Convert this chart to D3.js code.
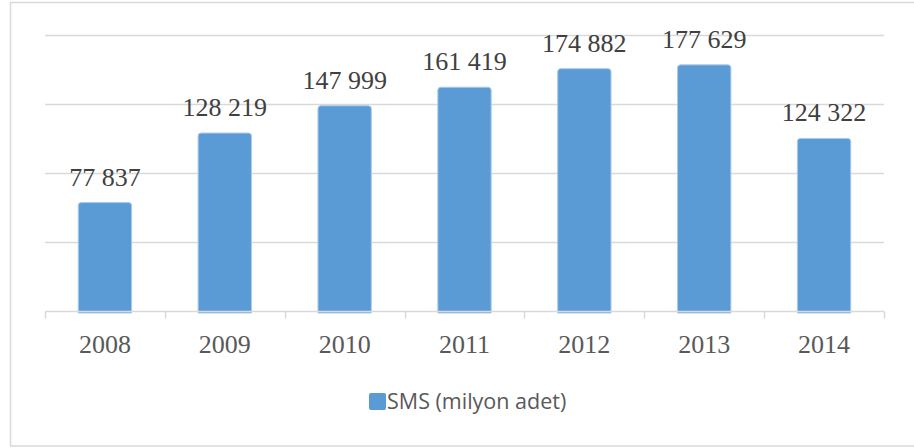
<!DOCTYPE html>
<html>
<head>
<meta charset="utf-8">
<script src="https://cdn.jsdelivr.net/npm/d3@7"></script>
<style>
  body { margin: 0; background: #fff; }
  svg { display: block; }
</style>
</head>
<body>
<div id="chart"></div>
<script>
// data
var years = ['2008', '2009', '2010', '2011', '2012', '2013', '2014'];
var smsValues = [77837, 128219, 147999, 161419, 174882, 177629, 124322];
var yTicks = [0, 50000, 100000, 150000, 200000];
var seriesName = 'SMS (milyon adet)';

var W = 914, H = 448;
var plot = {left: 45, right: 884, top: 35, bottom: 311};

var svg = d3.select('#chart').append('svg')
    .attr('width', W)
    .attr('height', H);

// outer frame
svg.append('rect')
    .attr('x', 10.5).attr('y', 2.5)
    .attr('width', W + 10).attr('height', 443.5)
    .attr('fill', 'none')
    .attr('stroke', '#d9d9d9')
    .attr('stroke-width', 1.5);

var x = d3.scaleBand()
    .domain(years)
    .range([plot.left, plot.right])
    .paddingInner(0.555)
    .paddingOuter(0.2775);

var y = d3.scaleLinear()
    .domain([0, 200000])
    .range([plot.bottom, plot.top]);

// gridlines
svg.append('g')
    .selectAll('line')
    .data(yTicks.slice(1))
    .enter().append('line')
    .attr('x1', plot.left).attr('x2', plot.right)
    .attr('y1', function(d){ return Math.round(y(d)) + 0.5 })
    .attr('y2', function(d){ return Math.round(y(d)) + 0.5 })
    .attr('stroke', '#d9d9d9')
    .attr('stroke-width', 1.5);

// bars with a rounded top
function barPath(d, i){
    var x0 = x(years[i]), w = x.bandwidth();
    var top = y(d) - 1, bot = plot.bottom + 2, r = 3;
    return 'M' + x0 + ',' + bot +
        'V' + (top + r) +
        'Q' + x0 + ',' + top + ' ' + (x0 + r) + ',' + top +
        'H' + (x0 + w - r) +
        'Q' + (x0 + w) + ',' + top + ' ' + (x0 + w) + ',' + (top + r) +
        'V' + bot + 'Z';
}

svg.append('g')
    .selectAll('path')
    .data(smsValues)
    .enter().append('path')
    .attr('d', barPath)
    .attr('fill', '#5b9bd5')
    .attr('stroke', '#a9c9ea')
    .attr('stroke-width', 1);

// x axis line and ticks
var xAxis = svg.append('g')
    .attr('transform', 'translate(0,' + (plot.bottom + 0.5) + ')');
xAxis.append('line')
    .attr('x1', plot.left).attr('x2', plot.right)
    .attr('stroke', '#d9d9d9').attr('stroke-width', 1.5);
xAxis.selectAll('.tk')
    .data(d3.range(years.length + 1))
    .enter().append('line')
    .attr('class', 'tk')
    .attr('x1', function(i){ return Math.round(plot.left + i * (plot.right - plot.left) / years.length) + 0.5 })
    .attr('x2', function(i){ return Math.round(plot.left + i * (plot.right - plot.left) / years.length) + 0.5 })
    .attr('y1', 0).attr('y2', 7)
    .attr('stroke', '#d9d9d9').attr('stroke-width', 1.5);

xAxis.selectAll('text')
    .data(years)
    .enter().append('text')
    .attr('x', function(d){ return x(d) + x.bandwidth() / 2 })
    .attr('y', 41)
    .attr('text-anchor', 'middle')
    .attr('font-family', '"Liberation Serif", "Times New Roman", serif')
    .attr('font-size', 26)
    .attr('fill', '#595959')
    .text(function(d){ return d });

// value labels
var fmt = function(v){ return d3.format(',')(v).replace(/,/g, ' ') };
svg.append('g')
    .selectAll('text')
    .data(smsValues)
    .enter().append('text')
    .attr('x', function(d, i){ return x(years[i]) + x.bandwidth() / 2 })
    .attr('y', function(d){ return y(d) - 18 })
    .attr('text-anchor', 'middle')
    .attr('font-family', '"Liberation Serif", "Times New Roman", serif')
    .attr('font-size', 26)
    .attr('fill', '#404040')
    .text(fmt);

// legend
var lg = svg.append('g').attr('transform', 'translate(369,393)');
lg.append('rect')
    .attr('width', 17).attr('height', 17).attr('rx', 2)
    .attr('fill', '#5b9bd5');
lg.append('text')
    .attr('x', 18).attr('y', 16)
    .attr('font-family', '"Open Sans", "Noto Sans", sans-serif')
    .attr('font-size', 21.5)
    .attr('fill', '#595959')
    .text(seriesName);
</script>
</body>
</html>
